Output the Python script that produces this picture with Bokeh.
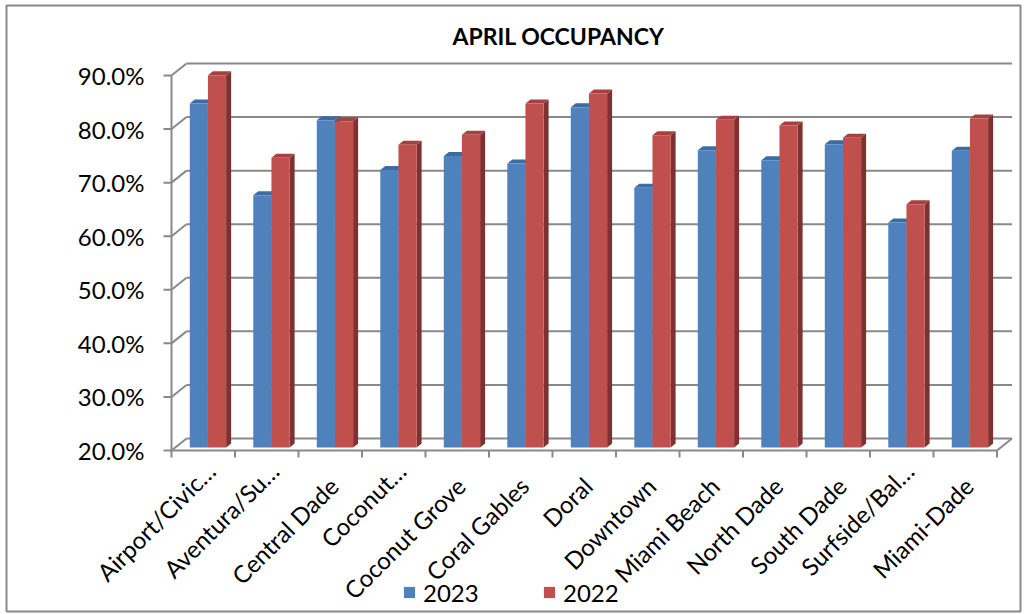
import math
from bokeh.plotting import figure
from bokeh.models import Range1d, Legend, LegendItem
from bokeh.embed import file_html
from bokeh.resources import INLINE
from bokeh.core.properties import value

# ---------------- data ----------------
categories = ["Airport/Civic…", "Aventura/Su…", "Central Dade", "Coconut…",
              "Coconut Grove", "Coral Gables", "Doral", "Downtown", "Miami Beach",
              "North Dade", "South Dade", "Surfside/Bal…", "Miami-Dade"]
occ_2023 = [84.2, 67.1, 81.1, 71.8, 74.4, 73.0, 83.5, 68.5, 75.5, 73.6, 76.6, 62.0, 75.4]
occ_2022 = [89.5, 74.1, 80.9, 76.5, 78.4, 84.2, 86.1, 78.3, 81.2, 80.1, 77.8, 65.4, 81.4]
y_ticks = [20, 30, 40, 50, 60, 70, 80, 90]
y_tick_labels = ["20.0%", "30.0%", "40.0%", "50.0%", "60.0%", "70.0%", "80.0%", "90.0%"]
series_names = ["2023", "2022"]
title_text = "APRIL OCCUPANCY"

# ---------------- layout / styling ----------------
W, H = 1022, 613
FONT = "Lato"
AX0 = 171.0          # pixel x of the front value axis
AY20 = 450.0         # pixel y of the 20% floor line (front)
PX_X = 63.5          # px per category
PX_Y = 5.357         # px per percentage point
BASE = 20.0
N = len(categories)


def px2x(px):
    return (px - AX0) / PX_X


def py2y(py):
    return BASE + (AY20 - py) / PX_Y


BACK_DX = 15 / PX_X
BACK_DY = 12 / PX_Y
BAR_DY = 3 / PX_Y
BAR_W = 0.286
LEFTS = [0.288, 0.574]
SIDE_DX = 5 / PX_X
SIDE_DY = 4 / PX_Y
GRID = "#898989"
FRONT = ["#4F81BD", "#C0504D"]
TOP = ["#3D6BA3", "#A5423F"]
SIDE = ["#2E5482", "#7D3130"]

p = figure(width=W, height=H, output_backend="svg", toolbar_location=None,
           x_range=Range1d(px2x(0), px2x(W)), y_range=Range1d(py2y(H), py2y(0)),
           x_axis_location=None, y_axis_location=None, min_border=0)
p.xgrid.visible = False
p.ygrid.visible = False
p.outline_line_color = None

# outer chart border
p.quad(left=px2x(6), right=px2x(1020), bottom=py2y(611), top=py2y(5),
       fill_color=None, line_color=GRID, line_width=2)

# back wall gridlines, left wall diagonals, front ticks
p.segment(x0=[BACK_DX] * len(y_ticks), y0=[v + BACK_DY for v in y_ticks],
          x1=[N + BACK_DX] * len(y_ticks), y1=[v + BACK_DY for v in y_ticks],
          line_color=GRID, line_width=2)
p.segment(x0=[0] * len(y_ticks), y0=y_ticks,
          x1=[BACK_DX] * len(y_ticks), y1=[v + BACK_DY for v in y_ticks],
          line_color=GRID, line_width=2)
p.segment(x0=[-8 / PX_X] * len(y_ticks), y0=y_ticks, x1=[0] * len(y_ticks), y1=y_ticks,
          line_color=GRID, line_width=2)
p.segment(x0=[0, 0, N], y0=[BASE, BASE, BASE], x1=[0, N, N + BACK_DX],
          y1=[max(y_ticks), BASE, BASE + BACK_DY], line_color=GRID, line_width=2)
xs_b = list(range(N + 1))
p.segment(x0=xs_b, y0=[BASE] * len(xs_b), x1=xs_b, y1=[BASE - 7 / PX_Y] * len(xs_b),
          line_color=GRID, line_width=2)

# bars with a 3D look
fronts = []
for s, vals in enumerate([occ_2023, occ_2022]):
    xl = [i + LEFTS[s] for i in range(N)]
    xr = [x + BAR_W for x in xl]
    tops = [v + BAR_DY for v in vals]
    bot = BASE + BAR_DY
    p.patches([[r, r, r + SIDE_DX, r + SIDE_DX] for r in xr],
              [[bot, t, t + SIDE_DY, bot + SIDE_DY] for t in tops],
              fill_color=SIDE[s], line_color=None)
    p.patches([[l, r, r + SIDE_DX, l + SIDE_DX] for l, r in zip(xl, xr)],
              [[t, t, t + SIDE_DY, t + SIDE_DY] for t in tops],
              fill_color=TOP[s], line_color=None)
    fronts.append(p.vbar(x=[x + BAR_W / 2 for x in xl], width=BAR_W, bottom=bot, top=tops,
                         fill_color=FRONT[s], line_color=None))

# value-axis labels
p.text(x=[px2x(144)] * len(y_ticks), y=y_ticks, text=y_tick_labels,
       text_align="right", text_baseline="middle", text_font=value(FONT),
       text_font_size="24px", text_color="black")

# category labels (rotated 45 degrees); truncated labels sit a little higher like in Excel
lab_x = [i + 0.5 + (7.5 if c.endswith("…") else 3.5) / PX_X for i, c in enumerate(categories)]
lab_y = [py2y(466) if c.endswith("…") else py2y(481) for c in categories]
p.text(x=lab_x, y=lab_y, text=categories, angle=math.pi / 4,
       text_align="right", text_baseline="middle", text_font=value(FONT),
       text_font_size="24px", text_color="black")

# title
p.text(x=[px2x(558)], y=[py2y(35.5)], text=[title_text], text_align="center",
       text_baseline="middle", text_font=value(FONT), text_font_style="bold",
       text_font_size="23px", text_color="black")

# legend
legend = Legend(items=[LegendItem(label=n, renderers=[r]) for n, r in zip(series_names, fronts)],
                location=(402, H - 606.5), orientation="horizontal",
                glyph_width=14, glyph_height=14, label_standoff=7, label_width=60,
                label_height=24, spacing=59, padding=0, margin=0, border_line_color=None,
                background_fill_alpha=0,
                label_text_font=FONT, label_text_font_size="24px", label_text_color="black")
p.add_layout(legend)

open("out.html", "w").write(file_html(p, INLINE))
